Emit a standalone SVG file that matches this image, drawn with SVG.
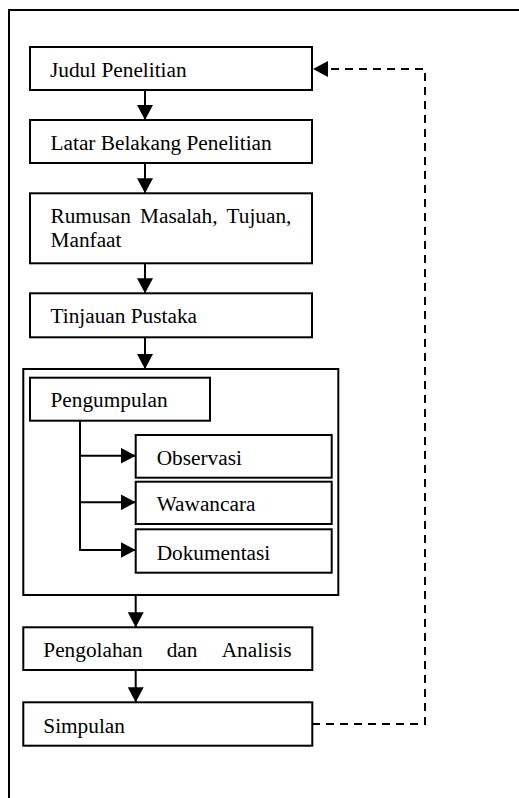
<svg xmlns="http://www.w3.org/2000/svg" width="519" height="798" viewBox="0 0 519 798">
<style>
.box{fill:#fff;stroke:#000;stroke-width:2}
.t{font-family:"Liberation Serif","Times New Roman",serif;font-size:21.3px;fill:#000}
.ln{fill:none;stroke:#000;stroke-width:2}
.dash{fill:none;stroke:#000;stroke-width:2;stroke-dasharray:8 6}
</style>
<defs>
<marker id="ah" markerUnits="userSpaceOnUse" markerWidth="16" markerHeight="16" refX="15" refY="8" orient="auto">
<path d="M0,0 L15,8 L0,16 z" fill="#000"/>
</marker>
</defs>
<rect width="519" height="798" fill="#fff"/>
<path class="ln" d="M9,798 V10 H519"/>
<g id="n-judul"><rect class="box" x="30" y="47" width="282" height="43"/><text class="t" x="50" y="77">Judul Penelitian</text></g>
<g id="n-latar"><rect class="box" x="30" y="120" width="282" height="43"/><text class="t" x="50.5" y="150">Latar Belakang Penelitian</text></g>
<g id="n-rumusan"><rect class="box" x="30" y="193.3" width="282" height="70"/><text class="t" y="222.7"><tspan x="50.5">Rumusan</tspan><tspan x="140">Masalah,</tspan><tspan x="226.5">Tujuan,</tspan></text><text class="t" x="50.5" y="247.3">Manfaat</text></g>
<g id="n-tinjauan"><rect class="box" x="30" y="293.3" width="282" height="44"/><text class="t" x="50.5" y="323">Tinjauan Pustaka</text></g>
<g id="n-group"><rect class="box" x="23.3" y="369" width="315" height="226"/></g>
<g id="n-pengumpulan"><rect class="box" x="30" y="377.7" width="180" height="43"/><text class="t" x="50.5" y="407.3">Pengumpulan</text></g>
<g id="n-observasi"><rect class="box" x="135.7" y="435" width="196" height="42.7"/><text class="t" x="156.7" y="465">Observasi</text></g>
<g id="n-wawancara"><rect class="box" x="135.7" y="481.7" width="196" height="42.3"/><text class="t" x="156.7" y="511.3">Wawancara</text></g>
<g id="n-dokumentasi"><rect class="box" x="135.7" y="529.3" width="196" height="43.4"/><text class="t" x="156.7" y="559.5">Dokumentasi</text></g>
<g id="n-pengolahan"><rect class="box" x="23.3" y="627.3" width="289" height="42.7"/><text class="t" y="657"><tspan x="43.3">Pengolahan</tspan><tspan x="166.7">dan</tspan><tspan x="221.7">Analisis</tspan></text></g>
<g id="n-simpulan"><rect class="box" x="23.3" y="702.3" width="289" height="43.4"/><text class="t" x="43.3" y="732.5">Simpulan</text></g>
<g id="connectors">
<line class="ln" x1="145" y1="90" x2="145" y2="120" marker-end="url(#ah)"/>
<line class="ln" x1="145" y1="163" x2="145" y2="193.3" marker-end="url(#ah)"/>
<line class="ln" x1="145" y1="263.3" x2="145" y2="293.3" marker-end="url(#ah)"/>
<line class="ln" x1="145" y1="337.3" x2="145" y2="369" marker-end="url(#ah)"/>
<line class="ln" x1="80" y1="420.7" x2="80" y2="551"/>
<line class="ln" x1="79" y1="455.7" x2="135.7" y2="455.7" marker-end="url(#ah)"/>
<line class="ln" x1="79" y1="502.3" x2="135.7" y2="502.3" marker-end="url(#ah)"/>
<line class="ln" x1="79" y1="550" x2="135.7" y2="550" marker-end="url(#ah)"/>
<line class="ln" x1="135.7" y1="595" x2="135.7" y2="627.3" marker-end="url(#ah)"/>
<line class="ln" x1="135.7" y1="670" x2="135.7" y2="702.3" marker-end="url(#ah)"/>
<polyline class="dash" points="312,724 425,724 425,69 313,69" marker-end="url(#ah)"/>
</g>
</svg>
